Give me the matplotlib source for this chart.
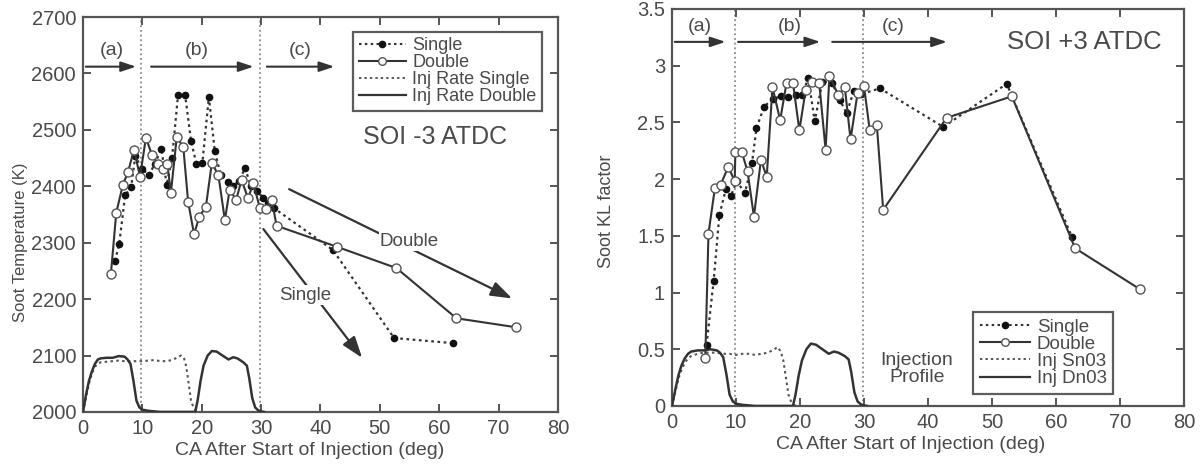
import matplotlib
matplotlib.use("Agg")
import matplotlib.pyplot as plt
from matplotlib.lines import Line2D

plt.rcParams['font.family'] = ['Liberation Sans', 'DejaVu Sans']

# ---------------- data: left panel (SOI -3 ATDC) ----------------
l_single_x = [5.4, 6.1, 7.1, 8.1, 8.8, 10.0, 11.1, 12.1, 13.2, 14.1, 15.0, 16.0, 17.2, 18.2, 19.1,
              20.1, 21.2, 22.2, 23.2, 24.4, 25.3, 26.3, 27.3, 28.3, 29.3, 30.3, 31.2, 32.2,
              42.1, 52.4, 62.3]
l_single_y = [2268, 2298, 2384, 2398, 2453, 2430, 2420, 2440, 2466, 2402, 2450, 2561, 2562, 2480, 2440,
              2441, 2558, 2462, 2420, 2408, 2400, 2410, 2432, 2400, 2392, 2380, 2370, 2361,
              2287, 2131, 2122]
l_double_x = [4.7, 5.6, 6.7, 7.6, 8.6, 9.6, 10.6, 11.6, 12.6, 13.5, 14.2, 14.8, 15.8, 16.9, 17.7,
              18.7, 19.6, 20.7, 21.7, 22.8, 23.9, 24.7, 25.8, 26.7, 27.8, 28.7, 29.8, 30.8,
              31.8, 32.6, 42.7, 52.8, 62.9, 73.0]
l_double_y = [2245, 2353, 2402, 2426, 2465, 2417, 2486, 2456, 2440, 2430, 2440, 2388, 2488, 2469, 2373,
              2315, 2346, 2364, 2441, 2420, 2340, 2394, 2376, 2411, 2379, 2405, 2361, 2359,
              2376, 2330, 2293, 2255, 2166, 2150]
l_inj_single_x = [0, 0.5, 1, 1.5, 2, 2.5, 3, 4, 5, 6, 7, 8, 9, 10, 11, 12, 13, 14, 15, 16, 16.5,
                  17, 17.4, 17.8, 18.2, 18.6, 19, 19.5]
l_inj_single_y = [2000, 2025, 2050, 2068, 2080, 2086, 2088, 2089, 2090, 2091, 2090, 2090, 2090, 2090,
                  2091, 2092, 2090, 2090, 2092, 2097, 2100, 2096, 2080, 2050, 2020, 2008, 2003, 2000]
l_inj_double_x = [0, 0.5, 1, 1.5, 2, 2.5, 3, 4, 5, 6, 7, 7.5, 8, 8.5, 9, 9.5, 10, 11, 12, 13,
                  18.9, 19.3, 19.8, 20.3, 21, 21.7, 22.5, 23.5, 24.5, 25.3, 26, 27, 27.6, 28, 28.5,
                  29, 29.5, 30, 30.5]
l_inj_double_y = [2000, 2030, 2055, 2072, 2085, 2093, 2095, 2096, 2096, 2099, 2098, 2093, 2085, 2055,
                  2020, 2008, 2004, 2002, 2001, 2000,
                  2000, 2020, 2055, 2082, 2100, 2108, 2107, 2100, 2093, 2097, 2095, 2088, 2082, 2060,
                  2025, 2008, 2003, 2001, 2000]

# ---------------- data: right panel (SOI +3 ATDC) ----------------
r_single_x = [5.4, 6.5, 7.4, 8.4, 9.2, 10.1, 11.4, 12.5, 13.2, 14.4, 15.8, 17.1, 18.2, 19.3, 20.3,
              21.3, 22.3, 23.5, 25.0, 26.2, 27.3, 28.4, 29.5, 32.5, 42.4, 52.3, 62.5]
r_single_y = [0.54, 1.10, 1.68, 1.91, 1.85, 1.98, 1.88, 2.14, 2.45, 2.64, 2.71, 2.73, 2.72, 2.74, 2.74,
              2.89, 2.51, 2.86, 2.85, 2.70, 2.58, 2.78, 2.75, 2.80, 2.46, 2.84, 1.49]
r_double_x = [5.2, 5.7, 6.7, 7.6, 8.8, 9.8, 9.9, 10.9, 11.8, 12.8, 13.9, 14.8, 15.7, 16.9, 17.9,
              18.9, 19.9, 20.9, 21.8, 23.0, 24.0, 24.6, 26.0, 27.0, 27.9, 29.0, 30.0, 30.9,
              32.0, 33.0, 42.9, 53.1, 63.0, 73.1]
r_double_y = [0.42, 1.52, 1.92, 1.95, 2.11, 1.98, 2.24, 2.24, 2.07, 1.67, 2.17, 2.02, 2.81, 2.52, 2.85,
              2.85, 2.43, 2.79, 2.86, 2.85, 2.26, 2.91, 2.74, 2.81, 2.35, 2.76, 2.82, 2.43,
              2.48, 1.73, 2.54, 2.73, 1.39, 1.03]
r_inj_single_x = [0, 0.5, 1, 1.5, 2, 2.5, 3, 4, 5, 6, 7, 8, 9, 10, 11, 12, 13, 14, 15, 16, 16.5,
                  17, 17.4, 17.8, 18.2, 18.6, 19, 19.5]
r_inj_single_y = [0, 0.12, 0.24, 0.32, 0.38, 0.42, 0.44, 0.46, 0.47, 0.47, 0.47, 0.46, 0.46, 0.45,
                  0.46, 0.46, 0.45, 0.46, 0.47, 0.50, 0.52, 0.48, 0.40, 0.25, 0.10, 0.04, 0.01, 0]
r_inj_double_x = [0, 0.5, 1, 1.5, 2, 2.5, 3, 4, 5, 6, 7, 7.5, 8, 8.5, 9, 9.5, 10, 11, 12, 13,
                  18.9, 19.3, 19.8, 20.3, 21, 21.7, 22.5, 23.5, 24.5, 25.3, 26, 27, 27.6, 28, 28.5,
                  29, 29.5, 30, 30.5]
r_inj_double_y = [0, 0.14, 0.27, 0.36, 0.42, 0.46, 0.48, 0.49, 0.49, 0.50, 0.49, 0.47, 0.43, 0.28,
                  0.10, 0.04, 0.02, 0.01, 0.005, 0,
                  0, 0.10, 0.27, 0.40, 0.50, 0.55, 0.54, 0.50, 0.46, 0.48, 0.47, 0.44, 0.41, 0.30,
                  0.12, 0.04, 0.015, 0.005, 0]

x_ticks = [0, 10, 20, 30, 40, 50, 60, 70, 80]
l_yticks = [2000, 2100, 2200, 2300, 2400, 2500, 2600, 2700]
r_yticks = [0, 0.5, 1, 1.5, 2, 2.5, 3, 3.5]
r_yticklabels = ['0', '0.5', '1', '1.5', '2', '2.5', '3', '3.5']

TXT = '#4a4a4a'
LINE = '#333333'
GRID = '#8a8a8a'

fig = plt.figure(figsize=(12.03, 4.66), dpi=100)
axL = fig.add_axes([0.069, 0.116, 0.3948, 0.8475])
axR = fig.add_axes([0.5586, 0.1288, 0.4256, 0.8519])


def style(ax):
    for s in ax.spines.values():
        s.set_color('#555555')
        s.set_linewidth(1.6)
    ax.tick_params(direction='in', top=True, right=True, length=6, width=1.4,
                   colors='#555555', labelcolor=TXT, labelsize=14.5, pad=5)
    ax.set_xlim(0, 80)
    ax.set_xticks(x_ticks)
    ax.set_xlabel('CA After Start of Injection (deg)', fontsize=14, color=TXT, labelpad=0)


def draw_panel(ax, sx, sy, dx, dy, isx, isy, idx, idy):
    ax.plot(sx, sy, linestyle=(0, (1.2, 1.6)), color=LINE, lw=1.6, marker='o', ms=4.5,
            mfc='#111111', mec='#111111', zorder=4)
    ax.plot(dx, dy, linestyle='-', color=LINE, lw=1.5, marker='o', ms=6.5,
            mfc='white', mec='#555555', mew=1.0, zorder=5)
    ax.plot(isx, isy, linestyle=(0, (1.2, 1.6)), color='#555555', lw=1.5, zorder=3)
    ax.plot(idx, idy, linestyle='-', color=LINE, lw=1.8, zorder=3)


handles = [
    Line2D([], [], linestyle=(0, (1.2, 1.6)), color=LINE, lw=1.5, marker='o', ms=4.5, mfc='#111111', mec='#111111'),
    Line2D([], [], linestyle='-', color=LINE, lw=1.5, marker='o', ms=5.5, mfc='white', mec='#555555'),
    Line2D([], [], linestyle=(0, (1.2, 1.6)), color='#555555', lw=1.4),
    Line2D([], [], linestyle='-', color=LINE, lw=1.6),
]

# ---- left ----
style(axL)
axL.set_ylim(2000, 2700)
axL.set_yticks(l_yticks)
axL.set_ylabel('Soot Temperature (K)', fontsize=12, color=TXT)
axL.yaxis.set_label_coords(-0.116, 0.43)
axL.xaxis.set_label_coords(0.478, -0.075)
for xv in (9.7, 29.8):
    axL.axvline(xv, color=GRID, ls=(0, (1, 1.6)), lw=1.3, zorder=1)
draw_panel(axL, l_single_x, l_single_y, l_double_x, l_double_y,
           l_inj_single_x, l_inj_single_y, l_inj_double_x, l_inj_double_y)

arrow_kw = dict(arrowstyle='-|>,head_length=0.9,head_width=0.3', color='#333333', lw=1.5)
for x0, x1 in ((0, 9.4), (11, 29.2), (30.5, 42.8)):
    axL.annotate('', xy=(x1, 2612), xytext=(x0, 2612), arrowprops=arrow_kw)
for xt, lab in ((4.9, '(a)'), (19.2, '(b)'), (36.5, '(c)')):
    axL.text(xt, 2640, lab, fontsize=14, color=TXT, ha='center', va='center')

big_arrow = dict(arrowstyle='-|>,head_length=1.3,head_width=0.45', color='#333333', lw=1.6)
axL.annotate('', xy=(72.7, 2199), xytext=(34.3, 2397), arrowprops=big_arrow, zorder=2)
axL.text(55.0, 2302, 'Double', fontsize=13.5, color=TXT, ha='center', va='center',
         bbox=dict(facecolor='white', edgecolor='none', pad=1), zorder=3)
axL.annotate('', xy=(47.3, 2092), xytext=(30.1, 2328), arrowprops=big_arrow, zorder=2)
axL.text(37.5, 2207, 'Single', fontsize=13.5, color=TXT, ha='center', va='center',
         bbox=dict(facecolor='white', edgecolor='none', pad=1), zorder=3)
axL.text(59.3, 2487, 'SOI -3 ATDC', fontsize=18, color=TXT, ha='center', va='center')

legL = axL.legend(handles, ['Single', 'Double', 'Inj Rate Single', 'Inj Rate Double'],
                  loc='upper right', bbox_to_anchor=(0.966, 0.962), fontsize=13,
                  frameon=True, fancybox=False, edgecolor='#333333', labelspacing=0.0,
                  handlelength=2.6, handletextpad=0.35, borderpad=0.3, borderaxespad=0)
legL.get_frame().set_linewidth(1.6)
for t in legL.get_texts():
    t.set_color(TXT)

# ---- right ----
style(axR)
axR.set_ylim(0, 3.5)
axR.set_yticks(r_yticks)
axR.set_yticklabels(r_yticklabels)
axR.set_ylabel('Soot KL factor', fontsize=13, color=TXT)
axR.yaxis.set_label_coords(-0.111, 0.491)
axR.xaxis.set_label_coords(0.467, -0.075)
for xv in (9.8, 29.8):
    axR.axvline(xv, color=GRID, ls=(0, (1, 1.6)), lw=1.3, zorder=1)
draw_panel(axR, r_single_x, r_single_y, r_double_x, r_double_y,
           r_inj_single_x, r_inj_single_y, r_inj_double_x, r_inj_double_y)

for x0, x1 in ((0, 8.8), (9.9, 23.6), (24.6, 43.4)):
    axR.annotate('', xy=(x1, 3.21), xytext=(x0, 3.21), arrowprops=arrow_kw)
for xt, lab in ((4.4, '(a)'), (18.4, '(b)'), (34.5, '(c)')):
    axR.text(xt, 3.35, lab, fontsize=14, color=TXT, ha='center', va='center')
axR.text(64.5, 3.21, 'SOI +3 ATDC', fontsize=18.5, color=TXT, ha='center', va='center')
axR.text(38.3, 0.33, 'Injection\nProfile', fontsize=14, color=TXT, ha='center', va='center',
         linespacing=1.0)

legR = axR.legend(handles, ['Single', 'Double', 'Inj Sn03', 'Inj Dn03'],
                  loc='lower left', bbox_to_anchor=(0.588, 0.031), fontsize=13.5,
                  frameon=True, fancybox=False, edgecolor='#333333', labelspacing=0.0,
                  handlelength=2.7, handletextpad=0.35, borderpad=0.35, borderaxespad=0)
legR.get_frame().set_linewidth(1.6)
for t in legR.get_texts():
    t.set_color(TXT)

fig.savefig('out.png', dpi=100, facecolor='white')
